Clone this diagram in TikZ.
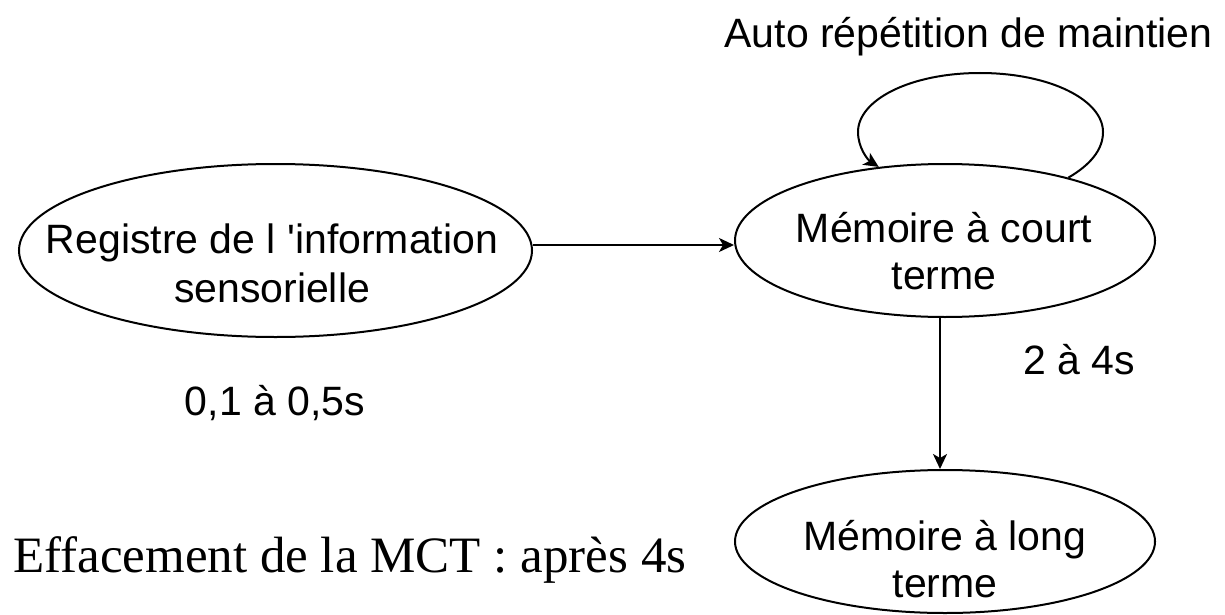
\documentclass[tikz,border=0pt]{standalone}
\usepackage{fontspec}
\setmainfont{Liberation Sans}
\newfontfamily\serifface{Liberation Serif}
\usetikzlibrary{shapes.geometric,arrows.meta}
\begin{document}
\begin{tikzpicture}[x=1pt,y=-1pt,
  bubble/.style={ellipse,draw,line width=2pt,inner sep=0pt},
  lbl/.style={anchor=base,align=center,inner sep=0pt,font=\fontsize{41}{48}\selectfont},
  conn/.style={line width=2pt,-{Stealth[length=15pt,width=14pt,inset=4pt]}}]
\useasboundingbox (0,0) rectangle (1225,615);
\node[bubble,minimum width=513pt,minimum height=173pt] (c1) at (275.5,250.5) {};
\node[bubble,minimum width=420pt,minimum height=153pt] (c2) at (945,240.5) {};
\node[bubble,minimum width=420pt,minimum height=143pt] (c3) at (945,541.5) {};
\node[lbl,font=\fontsize{41}{49}\selectfont] (t1) at (272,302) {Registre de l \textquotesingle information\\sensorielle};
\node[lbl,font=\fontsize{41}{47}\selectfont] (t2) at (944,289) {Mémoire à court\\terme};
\node[lbl,font=\fontsize{41}{47}\selectfont] (t3) at (945,597) {Mémoire à long\\terme};
\node[lbl] (loopl) at (968.5,48) {Auto répétition de maintien};
\node[lbl] (d1) at (275,415) {0,1 à 0,5s};
\node[lbl] (d2) at (1079,374) {2 à 4s};
\node[anchor=base west,inner sep=0pt,font=\serifface\fontsize{51}{60}\selectfont] (eff) at (13,572) {Effacement de la MCT : après 4s};
\draw[conn] ([yshift=5.5pt]c1.east) -- ([yshift=-4.5pt]c2.west);
\draw[conn] ([xshift=-5pt]c2.south) -- ([xshift=-5pt]c3.north);
\draw[conn] (c2.27.5) .. controls (1090,165) and (1103,150) .. (1103,132)
  .. controls (1103,100) and (1050,73) .. (980,73)
  .. controls (910,73) and (858,100) .. (858,132)
  .. controls (858,148) and (868,160) .. (c2.132);
\end{tikzpicture}
\end{document}
